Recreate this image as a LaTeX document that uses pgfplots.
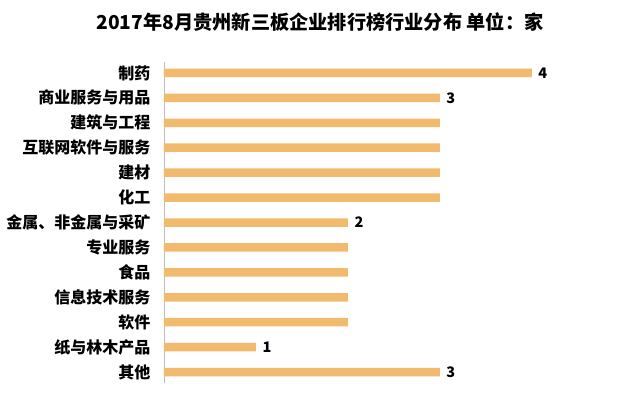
\documentclass[border=0pt]{standalone}
\usepackage{fontspec}
\setmainfont{Noto Sans CJK SC}
\usepackage{pgfplots}
\usepackage{pgfplotstable}
\pgfplotsset{compat=1.18}
\definecolor{barorange}{RGB}{241,186,108}
\definecolor{axisgray}{RGB}{190,190,190}

\pgfplotstableread{
y v lab
0 4 4
1 3 3
2 3 {}
3 3 {}
4 3 {}
5 3 {}
6 2 2
7 2 {}
8 2 {}
9 2 {}
10 2 {}
11 1 1
12 3 3
}\data

\begin{document}
\begin{tikzpicture}
\useasboundingbox (-164bp,-17bp) rectangle (476bp,383bp);
\node[font=\fontsize{19.2bp}{21bp}\selectfont\bfseries] at (156bp,361bp) {2017年8月贵州新三板企业排行榜行业分布 单位：家};
\begin{axis}[
    at={(0,0)}, anchor=south west,
    scale only axis,
    width=456bp, height=321bp,
    xmin=0, xmax=4.957,
    ymin=-0.44, ymax=12.44,
    y dir=reverse,
    xbar, bar width=8.5bp,
    axis x line=none,
    axis y line*=left,
    y axis line style={axisgray, line width=0.8pt},
    ytick=data,
    yticklabels={制药,商业服务与用品,建筑与工程,互联网软件与服务,建材,化工,金属、非金属与采矿,专业服务,食品,信息技术服务,软件,纸与林木产品,其他},
    major tick length=0,
    yticklabel style={font=\fontsize{16bp}{18bp}\selectfont\bfseries, anchor=east, xshift=-10bp},
    point meta=explicit symbolic,
    nodes near coords,
    nodes near coords align=horizontal,
    every node near coord/.append style={font=\fontsize{14.5bp}{16bp}\selectfont\bfseries, black, anchor=west, xshift=3bp},
    clip=false,
]
\addplot[fill=barorange, draw=none] table[x=v, y=y, meta=lab] {\data};
\end{axis}
\end{tikzpicture}
\end{document}
